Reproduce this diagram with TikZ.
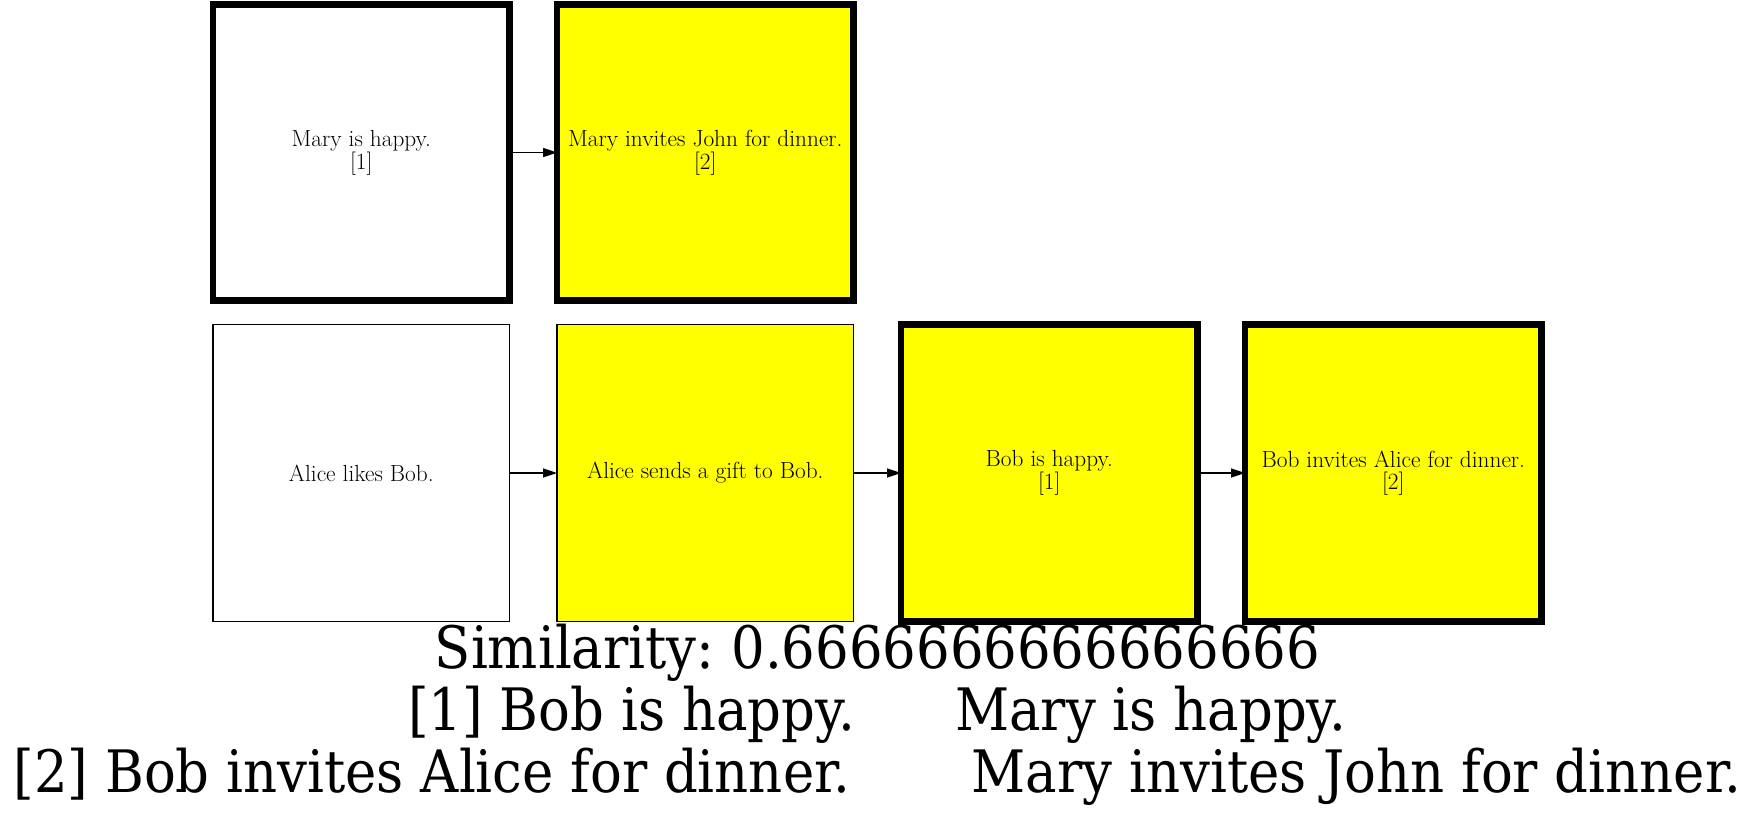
\documentclass[tikz,border=0pt]{standalone}
\usepackage{fontspec}
\usetikzlibrary{arrows.meta}
\newfontfamily\capfont[FakeStretch=0.904]{DejaVu Serif}
\definecolor{gvyellow}{HTML}{FFFF00}
\begin{document}
\begin{tikzpicture}[x=1pt,y=-1pt,
  box/.style={draw=black,rectangle,minimum width=296.5pt,minimum height=296.5pt,inner sep=0pt,outer sep=0pt,align=center,font=\fontsize{23.3}{21.7}\selectfont},
  thinbox/.style={box,line width=1.3pt},
  thickbox/.style={box,line width=6.7pt},
  edge/.style={line width=1.3pt,-{Triangle[length=14pt,width=9pt]}},
  captxt/.style={anchor=base,inner sep=0pt,font=\capfont\frenchspacing\fontsize{58.5}{62}\selectfont}]
\useasboundingbox (0,0) rectangle (1755,813);
\fill[white] (0,0) rectangle (1755,813);
\node[thickbox,fill=white] (m1) at (361.3,152.5) {Mary is happy.\\{}[1]};
\node[thickbox,fill=gvyellow] (m2) at (705.3,152.5) {Mary invites John for dinner.\\{}[2]};
\node[thinbox,fill=white] (a1) at (361.3,473) {Alice likes Bob.};
\node[thinbox,fill=gvyellow] (a2) at (705.3,473) {Alice sends a gift to Bob.};
\node[thickbox,fill=gvyellow] (b1) at (1049.3,473) {Bob is happy.\\{}[1]};
\node[thickbox,fill=gvyellow] (b2) at (1393.3,473) {Bob invites Alice for dinner.\\{}[2]};
\draw[edge] (m1.east) -- (m2.west);
\draw[edge] (a1.east) -- (a2.west);
\draw[edge] (a2.east) -- (b1.west);
\draw[edge] (b1.east) -- (b2.west);
\node[captxt] (c1) at (877.5,668.3) {Similarity: 0.6666666666666666};
\node[captxt] (c2) at (877.5,730) {[1] Bob is happy.\hspace{100pt}Mary is happy.};
\node[captxt] (c3) at (877.5,792.7) {[2] Bob invites Alice for dinner.\hspace{121pt}Mary invites John for dinner.};
\end{tikzpicture}
\end{document}
